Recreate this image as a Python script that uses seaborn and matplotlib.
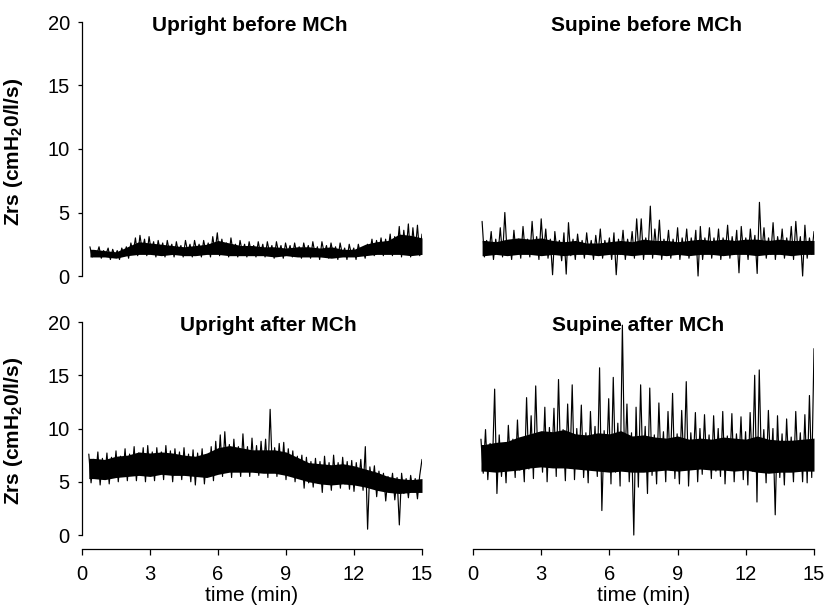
import numpy as np
import matplotlib
matplotlib.use("Agg")
import matplotlib.pyplot as plt
import seaborn as sns

# ---------------- data (Zrs, cmH2O/l/s) ----------------
x_ticks = [0, 3, 6, 9, 12, 15]
y_ticks = [0, 5, 10, 15, 20]
titles = ["Upright before MCh", "Supine before MCh", "Upright after MCh", "Supine after MCh"]

# times (min) at which the dense core of each trace was read
core_t = [0.4, 0.5, 1.0, 1.5, 2.0, 2.5, 3.0, 3.5, 4.0, 4.5, 5.0, 5.5, 6.0, 6.5, 7.0, 7.5,
          8.0, 8.5, 9.0, 9.5, 10.0, 10.5, 11.0, 11.5, 12.0, 12.5, 13.0, 13.5, 14.0, 14.5, 15.0]

upright_before_start, upright_before_end = 0.35, 15.0
upright_before = [
    2.3, 1.5, 2.0, 1.7, 2.3, 1.4, 2.0, 1.7, 2.2, 1.3, 2.1, 1.6, 2.0, 1.3, 2.2,
    1.6, 2.3, 1.4, 2.6, 1.8, 3.0, 1.6, 3.2,
    2.0, 2.9, 1.6, 3.1, 1.9, 2.7, 1.5, 2.8, 1.9, 2.6, 1.5, 2.8, 1.9, 2.5,
    1.5, 2.7, 1.8, 2.4, 1.5, 2.8, 1.9, 2.5, 1.5, 2.8, 1.9, 2.5, 1.5, 2.8, 1.9, 2.6, 1.5, 3.1, 1.9, 3.4,
    1.6, 2.9, 1.9, 2.6, 1.5, 3.0, 1.8, 2.5, 1.5, 2.8, 1.9, 2.5, 1.5, 2.7, 1.8, 2.4, 1.5, 2.7, 1.8, 2.5,
    1.5, 2.7, 1.8, 2.4, 1.4, 2.7, 1.8, 2.4, 1.4, 2.6, 1.8, 2.4, 1.5, 2.6, 1.7, 2.3, 1.4, 2.6, 1.8, 2.4,
    1.4, 2.7, 1.7, 2.3, 1.3, 2.7, 1.8, 2.4, 1.4, 2.6, 1.7, 2.3, 1.3, 2.6, 1.7, 2.2, 1.3, 2.5, 1.7, 2.2,
    1.3, 2.5, 1.7, 2.2, 1.4,
    2.5, 1.8, 2.9, 1.6, 2.8, 1.9, 3.0, 1.6, 2.9, 1.9,
    3.3, 1.6, 3.1, 1.9, 3.9, 1.5, 3.6, 1.9, 4.1, 1.5, 3.8, 1.9, 4.0, 1.6, 3.3,
]
upright_before_core_lo = [1.5, 1.5, 1.5, 1.4, 1.6, 1.7, 1.7, 1.6, 1.7, 1.6, 1.6, 1.7, 1.7, 1.6, 1.6, 1.6,
                          1.6, 1.5, 1.6, 1.5, 1.5, 1.5, 1.4, 1.5, 1.5, 1.6, 1.7, 1.7, 1.7, 1.6, 1.7]
upright_before_core_hi = [2.1, 2.1, 2.0, 1.9, 2.3, 2.7, 2.6, 2.5, 2.4, 2.3, 2.4, 2.5, 2.8, 2.6, 2.4, 2.4,
                          2.3, 2.3, 2.2, 2.3, 2.3, 2.2, 2.3, 2.1, 2.1, 2.5, 2.7, 2.8, 3.3, 3.2, 3.0]

supine_before_start, supine_before_end = 0.4, 15.0
supine_before = [
    4.3, 1.5, 2.8, 1.8, 3.5, 1.3, 2.9, 1.7, 3.8, 1.5,
    5.0, 1.8, 2.8, 1.3, 3.6, 1.7, 2.9, 1.4, 3.9, 1.8,
    2.9, 1.5, 4.3, 1.7, 3.1, 1.3, 4.5, 1.8, 3.7, 1.4,
    2.9, 0.1, 3.5, 1.8, 2.8, 1.2, 3.4, 0.15, 4.2, 1.6,
    2.9, 1.3, 3.3, 1.8, 2.8, 1.4, 3.4, 1.7, 2.8, 1.3,
    3.2, 1.7, 3.7, 1.4, 2.8, 1.8, 3.0, 1.3, 3.4, 0.1,
    2.9, 1.7, 3.6, 1.3, 2.9, 1.8, 3.5, 1.4, 4.5, 1.7,
    4.5, 1.3, 3.0, 1.8, 5.5, 1.4, 3.7, 1.7, 4.4, 1.3,
    2.9, 1.8, 3.6, 1.4, 2.9, 1.7, 3.8, 1.3, 3.0, 1.8,
    3.7, 1.4, 3.0, 1.7, 3.6, 0.0, 3.9, 1.3, 3.0, 1.8,
    3.8, 1.4, 3.0, 1.7, 3.7, 1.3, 3.0, 1.8, 4.0, 1.4,
    3.1, 1.7, 3.6, 0.25, 3.9, 1.8, 3.0, 1.3, 3.7, 1.7,
    3.2, 0.2, 5.8, 1.8, 3.8, 1.4, 3.0, 1.7, 4.2, 1.3,
    3.1, 1.8, 3.7, 1.4, 3.0, 1.7, 3.9, 1.3, 4.3, 1.8,
    3.1, 0.0, 4.0, 1.4, 3.0, 1.7, 3.5,
]
supine_before_core_lo = [1.6, 1.6, 1.7, 1.6, 1.7, 1.7, 1.6, 1.7, 1.6, 1.7, 1.7, 1.6, 1.7, 1.7, 1.6, 1.7,
                         1.7, 1.6, 1.7, 1.6, 1.7, 1.7, 1.6, 1.7, 1.7, 1.6, 1.7, 1.7, 1.6, 1.7, 1.7]
supine_before_core_hi = [2.8, 2.8, 2.7, 2.9, 3.0, 2.9, 3.0, 2.8, 2.7, 2.8, 2.6, 2.6, 2.7, 2.8, 2.7, 2.9,
                         2.8, 2.8, 2.7, 2.8, 2.9, 2.8, 2.9, 2.8, 2.9, 2.9, 2.8, 2.9, 2.8, 2.8, 2.8]

upright_after_start, upright_after_end = 0.3, 15.0
upright_after = [
    7.6, 4.9, 7.1, 5.5, 7.8, 4.7, 7.2, 5.4, 7.7, 4.8,
    7.3, 5.5, 7.9, 5.0, 7.4, 5.6, 8.1, 5.1, 7.6, 5.7,
    8.3, 5.1, 7.7, 5.8, 8.2, 5.0, 8.4, 5.7, 7.8, 5.1,
    8.2, 5.8, 7.8, 5.2, 8.4, 5.7, 7.9, 5.0, 8.1, 5.8,
    7.8, 5.2, 8.2, 5.7, 7.6, 5.0, 8.0, 4.7, 7.7, 5.6,
    8.1, 4.8, 7.5, 5.6, 8.3, 5.1, 8.8, 5.8, 9.4, 5.5,
    9.7, 6.1, 8.5, 5.4, 9.0, 6.1, 8.3, 5.5, 9.5, 6.0,
    8.3, 5.5, 9.1, 6.0, 8.4, 5.6, 8.8, 6.0, 9.0, 5.4,
    11.8, 5.9, 8.2, 5.5, 8.6, 5.8, 8.7, 5.2, 8.1, 5.7,
    7.9, 5.0, 7.4, 5.4, 7.5, 4.4, 7.3, 4.9, 6.9, 4.5,
    7.2, 4.9, 6.9, 4.0, 7.4, 4.8, 6.8, 4.2, 7.5, 4.9,
    6.8, 4.4, 7.3, 4.8, 6.9, 4.3, 7.0, 4.1, 6.8, 4.8,
    7.1, 4.2, 8.3, 0.55, 6.4, 4.6, 6.5, 3.6, 6.0, 4.3,
    5.8, 3.2, 5.5, 4.2, 5.8, 3.3, 5.4, 0.95, 5.8, 3.9,
    5.3, 3.5, 5.6, 4.1, 5.3, 3.4, 5.6, 7.1,
]
upright_after_core_lo = [5.3, 5.3, 5.2, 5.4, 5.5, 5.6, 5.5, 5.7, 5.6, 5.6, 5.5, 5.4, 5.7, 5.9, 5.9, 5.9,
                         5.8, 5.8, 5.6, 5.3, 5.0, 4.8, 4.7, 4.8, 4.7, 4.5, 4.2, 4.0, 3.9, 4.0, 4.0]
upright_after_core_hi = [7.2, 7.2, 7.1, 7.4, 7.5, 7.8, 7.7, 7.8, 7.7, 7.5, 7.4, 7.7, 8.2, 8.4, 8.2, 8.0,
                         8.0, 8.0, 7.8, 7.3, 6.8, 6.7, 6.6, 6.7, 6.5, 6.2, 5.9, 5.5, 5.3, 5.2, 5.3]

supine_after_start, supine_after_end = 0.35, 15.0
supine_after = [
    9.0, 5.8, 9.9, 5.2, 8.6, 6.3, 13.7, 3.9, 9.4, 5.5,
    8.4, 4.9, 10.3, 6.4, 9.0, 5.4, 10.8, 6.1, 8.5, 5.0,
    12.9, 6.2, 11.2, 5.3, 14.0, 6.6, 9.5, 5.9, 12.0, 5.0,
    10.1, 6.5, 11.9, 5.5, 14.6, 6.4, 9.9, 5.1, 12.3, 6.3,
    14.1, 5.2, 10.0, 6.4, 12.2, 5.4, 9.6, 4.9, 11.6, 6.3,
    10.2, 5.5, 15.7, 2.3, 9.8, 6.2, 12.8, 4.8, 14.8, 5.9,
    10.5, 4.6, 19.7, 6.2, 12.3, 5.0, 9.6, 0.0, 12.0, 4.5,
    14.1, 6.0, 10.2, 3.9, 13.8, 5.6, 9.4, 4.8, 12.4, 6.3,
    9.7, 5.0, 11.6, 6.1, 13.3, 5.3, 9.5, 4.8, 11.7, 6.2,
    14.4, 4.6, 9.6, 6.2, 11.5, 5.0, 10.0, 5.7, 11.3, 6.3,
    9.4, 5.3, 11.2, 6.0, 10.0, 5.5, 11.6, 4.8, 9.3, 6.1,
    11.4, 5.0, 9.5, 6.2, 11.1, 5.2, 9.7, 4.7, 11.5, 6.0,
    15.0, 3.1, 15.5, 6.2, 9.9, 4.9, 11.7, 6.1, 10.0, 1.9,
    11.2, 5.4, 9.5, 4.7, 10.9, 6.0, 9.2, 5.0, 11.6, 6.2,
    9.6, 5.0, 11.3, 4.9, 13.1, 5.4, 17.5,
]
supine_after_core_lo = [6.0, 6.0, 5.9, 6.0, 6.1, 6.3, 6.4, 6.3, 6.3, 6.2, 6.1, 6.0, 5.9, 6.0, 5.9, 5.9,
                        6.0, 6.1, 6.0, 6.1, 6.2, 6.1, 6.1, 6.0, 6.1, 5.9, 5.8, 5.9, 5.9, 6.0, 6.0]
supine_after_core_hi = [8.5, 8.5, 8.7, 8.8, 9.2, 9.5, 9.8, 9.7, 9.9, 9.5, 9.4, 9.6, 9.5, 9.8, 9.3, 9.4,
                        9.2, 9.1, 9.3, 9.0, 9.1, 9.0, 9.2, 9.1, 9.0, 9.3, 9.0, 8.9, 8.9, 9.0, 9.1]

# ---------------- styling ----------------
sns.set_theme(style="white")
plt.rcParams["font.family"] = ["Liberation Sans", "DejaVu Sans"]
plt.rcParams["mathtext.fontset"] = "custom"
plt.rcParams["mathtext.rm"] = "Liberation Sans"
plt.rcParams["mathtext.bf"] = "Liberation Sans:bold"

W, H = 836, 610
fig = plt.figure(figsize=(W / 100, H / 100), dpi=100)


def px_axes(x0, ytop, x1, ybot):
    return fig.add_axes([x0 / W, (H - ybot) / H, (x1 - x0) / W, (ybot - ytop) / H])


TICK_FS = 14.5
TITLE_FS = 15
LABEL_FS = 15
ylab = r"Zrs (cmH$_{\mathbf{2}}$0/l/s)"

panels = [
    (upright_before, upright_before_start, upright_before_end,
     upright_before_core_lo, upright_before_core_hi,
     (82, 22, 422, 282.35), (-0.5, 20), (0.494, 0.9654), True, False),
    (supine_before, supine_before_start, supine_before_end,
     supine_before_core_lo, supine_before_core_hi,
     (473, 22, 814, 282.35), (-0.5, 20), (0.510, 0.9654), False, False),
    (upright_after, upright_after_start, upright_after_end,
     upright_after_core_lo, upright_after_core_hi,
     (82, 322, 422, 549), (-1.31, 20), (0.547, 0.960), True, True),
    (supine_after, supine_after_start, supine_after_end,
     supine_after_core_lo, supine_after_core_hi,
     (473, 322, 814, 549), (-1.31, 20), (0.484, 0.960), False, True),
]

for (vals, t0, t1, clo, chi, box, ylim, tpos, has_y, has_x), title in zip(panels, titles):
    ax = px_axes(*box)
    t = np.linspace(t0, t1, len(vals))
    ct = list(core_t)
    ct[0] = t0
    ax.fill_between(ct, clo, chi, color="black", linewidth=0)
    sns.lineplot(x=t, y=vals, ax=ax, color="black", linewidth=0.85,
                 estimator=None, sort=False, errorbar=None)
    ax.set_xlim(0, 15)
    ax.set_ylim(*ylim)
    ax.set_xlabel("")
    ax.set_ylabel("")
    for s in ["top", "right"]:
        ax.spines[s].set_visible(False)
    ax.text(tpos[0], tpos[1], title, transform=ax.transAxes, ha="center",
            va="baseline", fontsize=TITLE_FS, fontweight="bold", color="black")

    if has_y:
        ax.spines["left"].set_bounds(0, 20)
        ax.spines["left"].set_color("black")
        ax.spines["left"].set_linewidth(0.9)
        ax.set_yticks(y_ticks)
        ax.set_yticklabels([str(v) for v in y_ticks])
        ax.tick_params(axis="y", left=True, length=3, width=0.9, pad=5.8,
                       labelsize=TICK_FS, colors="black", direction="out")
        ax.set_ylabel(ylab, fontsize=LABEL_FS, fontweight="bold", color="black")
        yc = (0 - ylim[0]) / (ylim[1] - ylim[0])
        ax.yaxis.set_label_coords(-0.168, yc + (1 - yc) / 2 - 0.01)
    else:
        ax.spines["left"].set_visible(False)
        ax.set_yticks([])

    if has_x:
        ax.spines["bottom"].set_bounds(0, 15)
        ax.spines["bottom"].set_color("black")
        ax.spines["bottom"].set_linewidth(0.9)
        ax.set_xticks(x_ticks)
        ax.set_xticklabels([str(v) for v in x_ticks])
        ax.tick_params(axis="x", bottom=True, length=4.3, width=0.9, pad=7.5,
                       labelsize=TICK_FS, colors="black", direction="out")
        ax.set_xlabel("time (min)", fontsize=LABEL_FS, color="black")
        ax.xaxis.label.set_va("baseline")
        ax.xaxis.set_label_coords(0.5, -0.229)
    else:
        ax.spines["bottom"].set_visible(False)
        ax.set_xticks([])

fig.savefig("out.png", dpi=100, facecolor="white")
